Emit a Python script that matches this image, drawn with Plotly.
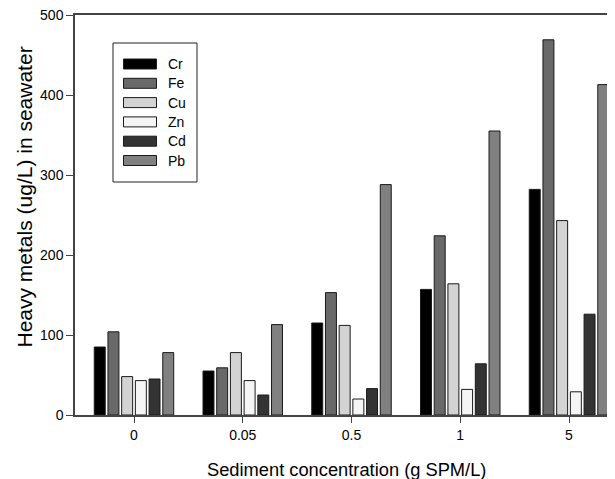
import plotly.graph_objects as go

categories = ["0", "0.05", "0.5", "1", "5"]
metals = ["Cr", "Fe", "Cu", "Zn", "Cd", "Pb"]
cr = [85, 55, 115, 157, 282]
fe = [104, 59, 153, 224, 469]
cu = [48, 78, 112, 164, 243]
zn = [43, 43, 20, 32, 29]
cd = [45, 25, 33, 64, 126]
pb = [78, 113, 288, 355, 413]
series = [cr, fe, cu, zn, cd, pb]
colors = ["#000000", "#696969", "#d3d3d3", "#f5f5f5", "#333333", "#808080"]
y_ticks = [0, 100, 200, 300, 400, 500]
x_title = "Sediment concentration (g SPM/L)"
y_title = "Heavy metals (ug/L) in seawater"

# page body has an 8px margin; figure coordinates = screen - 8
OFF = 8
W, H = 615, 479
ML, MR, MT, MB = 75 - OFF, OFF, 15 - OFF, 64 + OFF
PW, PH = W - ML - MR, H - MT - MB

fig = go.Figure()
for name, vals, col in zip(metals, series, colors):
    fig.add_trace(go.Bar(
        x=list(range(len(categories))), y=vals, name=name,
        marker=dict(color=col, line=dict(color="#1a1a1a", width=1)),
        showlegend=False,
    ))

def px(x):
    return (x - OFF - ML) / PW

def py(y):
    return (H - MB - (y - OFF)) / PH

shapes = [dict(type="rect", xref="paper", yref="paper",
               x0=px(113), x1=px(197), y0=py(182), y1=py(43),
               line=dict(color="#222222", width=1), fillcolor="white", layer="above")]
annotations = []
for i, (name, col) in enumerate(zip(metals, colors)):
    top = 59 + 19.3 * i
    shapes.append(dict(type="rect", xref="paper", yref="paper",
                       x0=px(123.5), x1=px(156.5), y0=py(top + 10), y1=py(top),
                       line=dict(color="#1a1a1a", width=1), fillcolor=col, layer="above"))
    annotations.append(dict(xref="paper", yref="paper", x=px(165.5), y=py(top + 5),
                            text=name, showarrow=False, xanchor="left", yanchor="middle",
                            font=dict(size=14, color="#000000")))

annotations.append(dict(xref="paper", yref="paper", x=px(346.5), y=py(469),
                        text=x_title, showarrow=False, xanchor="center", yanchor="middle",
                        font=dict(size=18.3, color="#000000")))
annotations.append(dict(xref="paper", yref="paper", x=px(24), y=py(197.5),
                        text=y_title, showarrow=False, xanchor="center", yanchor="middle",
                        textangle=-90, font=dict(size=21, color="#000000")))

fig.update_layout(
    width=W, height=H,
    margin=dict(l=ML, r=MR, t=MT, b=MB, autoexpand=False),
    paper_bgcolor="white", plot_bgcolor="white",
    font=dict(family="Arial, Liberation Sans, sans-serif", color="#000000", size=14),
    barmode="group", bargap=0.244, bargroupgap=0.2,
    shapes=shapes, annotations=annotations,
    xaxis=dict(
        tickmode="array", tickvals=list(range(len(categories))), ticktext=categories,
        range=[-0.5425, 4.423], showgrid=False, zeroline=False, automargin=False,
        showline=True, linecolor="#444444", linewidth=1.5, mirror=True,
        ticks="outside", ticklen=6, tickcolor="#444444",
        tickfont=dict(size=14), ticklabeloverflow="allow",
    ),
    yaxis=dict(
        range=[0, 500], tickvals=y_ticks, showgrid=False, zeroline=False, automargin=False,
        showline=True, linecolor="#444444", linewidth=1.5,
        ticks="outside", ticklen=7, tickcolor="#444444",
        tickfont=dict(size=14), ticklabeloverflow="allow",
    ),
)

fig.write_html("out.html")
